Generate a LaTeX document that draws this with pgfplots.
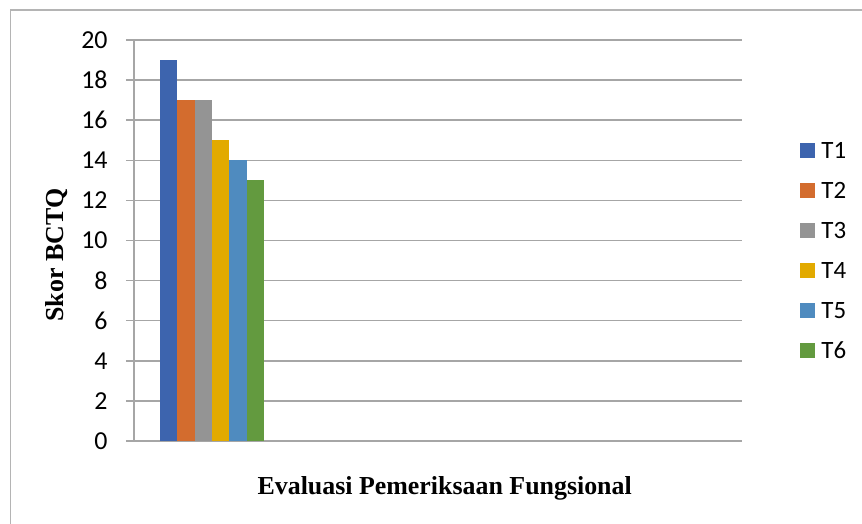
\documentclass[border=0pt]{standalone}
\usepackage{pgfplots}
\pgfplotsset{compat=1.18}
\usepackage{fontspec}
\setmainfont{Carlito}
\newfontfamily\serifbold{Liberation Serif}[UprightFont=*, BoldFont=* Bold]

\definecolor{cT1}{RGB}{61,100,174}
\definecolor{cT2}{RGB}{211,108,46}
\definecolor{cT3}{RGB}{148,148,148}
\definecolor{cT4}{RGB}{226,170,0}
\definecolor{cT5}{RGB}{79,139,191}
\definecolor{cT6}{RGB}{99,154,63}
\definecolor{gridgray}{RGB}{166,166,166}
\definecolor{framegray}{RGB}{180,180,180}

\pgfplotsset{
  sq legend/.style={legend image code/.code={\fill[##1,draw=none] (0bp,-3.75bp) rectangle (7.5bp,3.75bp);}},
}

\begin{document}
\begin{tikzpicture}
\useasboundingbox (-67bp,-41.5bp) rectangle (364bp,220.5bp);
\clip (-67bp,-41.5bp) rectangle (364bp,220.5bp);
% chart frame (runs past the right and bottom edges)
\draw[framegray, line width=0.75bp] (-61.75bp,-80bp) rectangle (420bp,215.5bp);
\begin{axis}[
  at={(0bp,0bp)}, anchor=south west,
  scale only axis, width=304bp, height=200.5bp,
  xmin=0, xmax=4, ymin=0, ymax=20,
  xtick=\empty,
  ytick={0,2,...,20},
  ytick pos=left,
  tick align=outside,
  major tick length=4bp,
  tick style={gridgray, line width=0.75bp},
  axis x line*=bottom, axis y line*=left,
  axis line style={gridgray, line width=0.75bp, -},
  ymajorgrids,
  grid style={gridgray, line width=0.75bp},
  /pgf/number format/assume math mode=true,
  yticklabel style={font=\fontsize{13}{15}\selectfont, inner sep=0pt, anchor=east},
  yticklabel shift=9bp,
  ybar=0pt, bar width=0.114,
  every axis y label/.style={at={(axis description cs:-0.1266,0.464)}, rotate=90, anchor=center,
    font=\serifbold\bfseries\fontsize{13}{15}\selectfont},
  every axis x label/.style={at={(axis description cs:0.511,-0.117)}, anchor=center,
    font=\serifbold\bfseries\fontsize{13}{15}\selectfont},
  ylabel={Skor BCTQ},
  xlabel={Evaluasi Pemeriksaan Fungsional},
  legend cell align=left,
  legend style={at={(axis description cs:1.0954,0.476)}, anchor=west,
    draw=none, fill=none, inner sep=0pt, row sep=12bp,
    font=\fontsize{12.5}{14}\selectfont,
    nodes={inner xsep=3bp, inner ysep=0pt, text height=8bp, text depth=0pt}},
]
\addplot[sq legend, fill=cT1, draw=none] coordinates {(0.513,19)};
\addplot[sq legend, fill=cT2, draw=none] coordinates {(0.513,17)};
\addplot[sq legend, fill=cT3, draw=none] coordinates {(0.513,17)};
\addplot[sq legend, fill=cT4, draw=none] coordinates {(0.513,15)};
\addplot[sq legend, fill=cT5, draw=none] coordinates {(0.513,14)};
\addplot[sq legend, fill=cT6, draw=none] coordinates {(0.513,13)};
\legend{T1,T2,T3,T4,T5,T6}
\end{axis}
\end{tikzpicture}
\end{document}
